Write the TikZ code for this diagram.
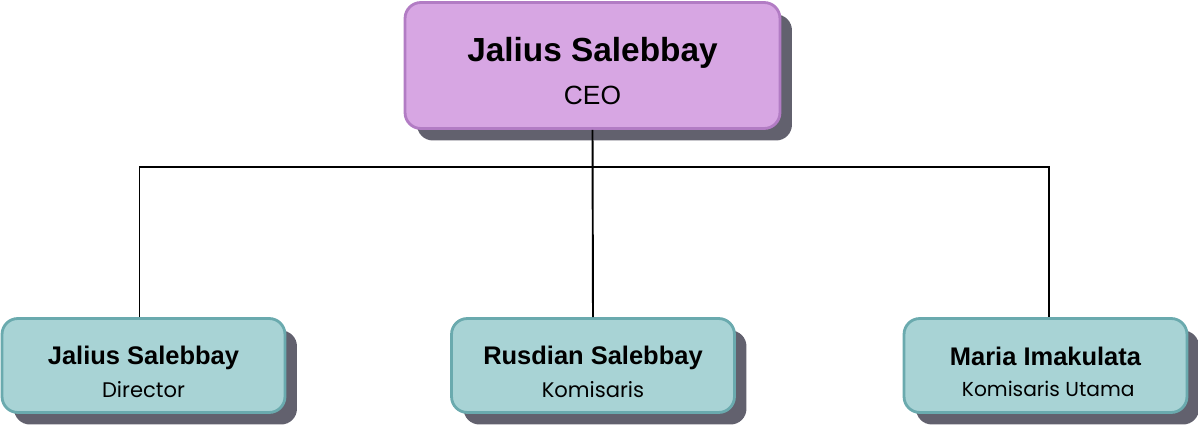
\documentclass[tikz,border=0pt]{standalone}
\usepackage{fontspec}
\usepackage{tikz}
\usetikzlibrary{shadows}
\setmainfont{Liberation Sans}
\newfontfamily\rolefont{Poppins}
\definecolor{ceoback}{RGB}{215,166,227}
\definecolor{ceoline}{RGB}{178,124,196}
\definecolor{staffback}{RGB}{168,211,213}
\definecolor{staffline}{RGB}{106,170,174}
\definecolor{shadowgray}{RGB}{98,97,110}

\tikzset{
  card/.style={rounded corners=9pt,line width=1.6pt,align=center,inner sep=0pt,
    drop shadow={shadow xshift=0.24cm,shadow yshift=-0.24cm,fill=shadowgray,opacity=1}},
  ceocard/.style={card,fill=ceoback,draw=ceoline,minimum width=7.5cm,minimum height=2.52cm},
  staffcard/.style={card,fill=staffback,draw=staffline,minimum width=5.66cm,minimum height=1.88cm},
  wire/.style={line width=1.1pt,black}
}

\begin{document}
\begin{tikzpicture}[x=0.02cm,y=-0.02cm]
\useasboundingbox (0,0) rectangle (1198,425);

\node [ceocard] (ceo) at (592.5,65.5)
{
\rule{0pt}{20pt}{\fontsize{19}{22}\selectfont\bfseries Jalius Salebbay}\\[9pt]
{\fontsize{15}{18}\selectfont CEO}
};

\node [staffcard] (dir) at (143.5,365.5)
{
\rule{0pt}{18pt}{\fontsize{14.5}{17}\selectfont\bfseries Jalius Salebbay}\\[5.5pt]
{\rolefont\fontsize{12}{14}\selectfont Director}
};
\node [staffcard] (kom) at (593,365.5)
{
\rule{0pt}{18pt}{\fontsize{14.5}{17}\selectfont\bfseries Rusdian Salebbay}\\[5.5pt]
{\rolefont\fontsize{12}{14}\selectfont Komisaris}
};
\node [staffcard] (utama) at (1045.5,365.5)
{
\rule{0pt}{18pt}{\fontsize{14.5}{17}\selectfont\bfseries Maria Imakulata}\\[5.5pt]
{\rolefont\fontsize{11.5}{14}\selectfont \ Komisaris Utama}
};

% lines between the cards
\coordinate (bus) at (593,167);
\draw [wire] (ceo.south) -- (kom.north);
\draw [wire] ([xshift=-0.08cm]dir.north) -- ([xshift=-0.08cm]dir.north |- bus)
  -- ([xshift=0.07cm]utama.north |- bus) -- ([xshift=0.07cm]utama.north);
\end{tikzpicture}
\end{document}
